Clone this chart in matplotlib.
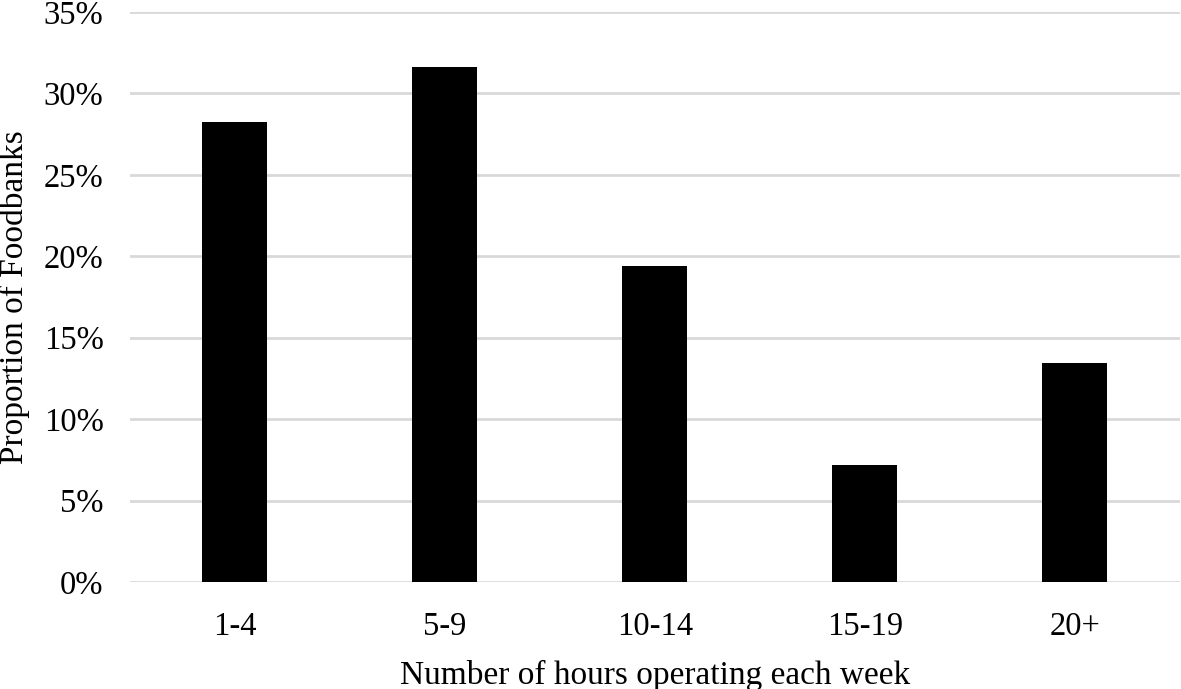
import matplotlib
matplotlib.use("Agg")
import matplotlib.pyplot as plt
from matplotlib.ticker import PercentFormatter

# Data
categories = ["1-4", "5-9", "10-14", "15-19", "20+"]
proportions = [28.25, 31.6, 19.4, 7.2, 13.45]  # percent of foodbanks

plt.rcParams["font.family"] = ["Liberation Serif", "DejaVu Serif"]

fig = plt.figure(figsize=(11.81, 6.89), dpi=100)
ax = fig.add_axes([0.110, 0.1553, 0.889, 0.8273])

x = range(len(categories))
ax.bar(x, proportions, width=0.31, color="black", zorder=3)

ax.set_xlim(-0.5, len(categories) - 0.5)
ax.set_ylim(0, 35)
ax.set_yticks(range(0, 36, 5))
ax.yaxis.set_major_formatter(PercentFormatter(decimals=0))
ax.set_xticks(list(x))
ax.set_xticklabels(categories)

ax.grid(axis="y", color="#d9d9d9", linewidth=2, zorder=0)
for s in ax.spines.values():
    s.set_visible(False)
ax.tick_params(axis="both", length=0, labelsize=23.5)
ax.tick_params(axis="x", pad=21)
ax.tick_params(axis="y", pad=19)

ax.set_xlabel("Number of hours operating each week", fontsize=24, labelpad=13)
ax.set_ylabel("Proportion of Foodbanks", fontsize=24)
ax.yaxis.set_label_coords(-0.095, 0.5)

fig.savefig("out.png", dpi=100)
